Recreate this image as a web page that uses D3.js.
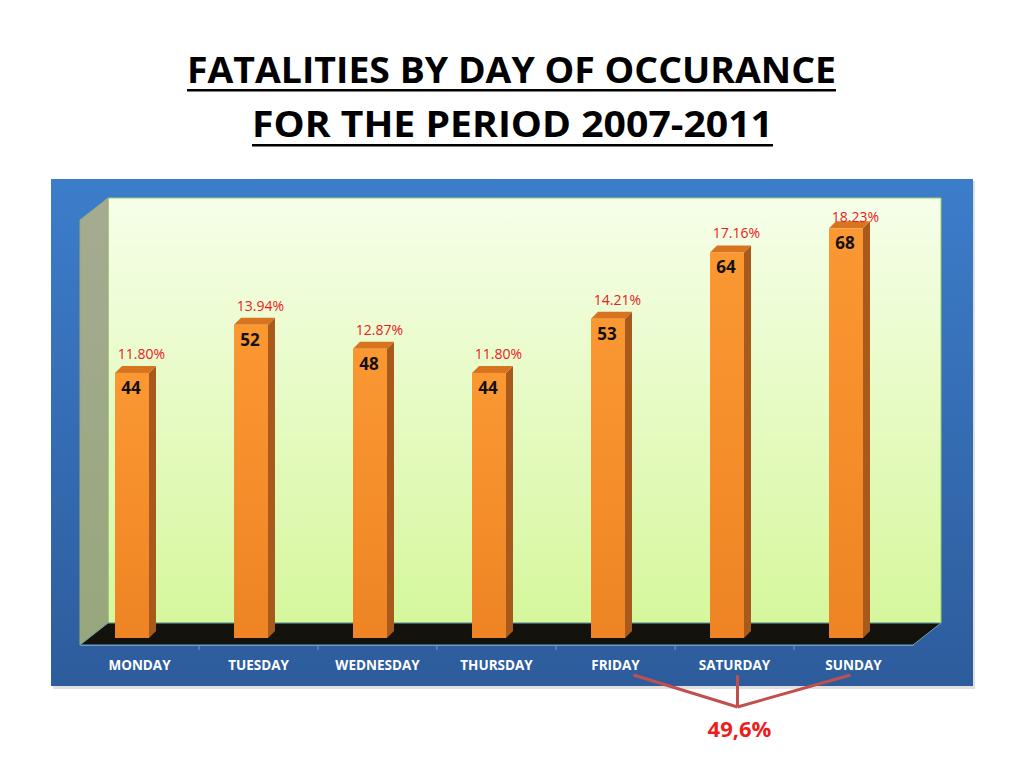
<!DOCTYPE html>
<html>
<head>
<meta charset="utf-8">
<script src="https://cdn.jsdelivr.net/npm/d3@7"></script>
<style>
  body { margin: 0; background: #fff; }
</style>
</head>
<body>
<div id="chart"></div>
<script>
const days = ["MONDAY", "TUESDAY", "WEDNESDAY", "THURSDAY", "FRIDAY", "SATURDAY", "SUNDAY"];
const fatalities = [44, 52, 48, 44, 53, 64, 68];
const shares = [11.8, 13.94, 12.87, 11.8, 14.21, 17.16, 18.23];
const weekendShare = "49,6%";
const titleLines = ["FATALITIES BY DAY OF OCCURANCE", "FOR THE PERIOD 2007-2011"];

const width = 1024;
const height = 768;

const svg = d3.select("#chart").append("svg")
  .attr("width", width)
  .attr("height", height);

const defs = svg.append("defs");

function vGrad(id, top, bottom) {
  const g = defs.append("linearGradient").attr("id", id)
    .attr("x1", 0).attr("y1", 0).attr("x2", 0).attr("y2", 1);
  g.append("stop").attr("offset", "0%").attr("stop-color", top);
  g.append("stop").attr("offset", "100%").attr("stop-color", bottom);
}
vGrad("panel", "#3c7dca", "#2d5c9c");
vGrad("wall", "#f6fee9", "#d6f79c");
vGrad("side", "#a5ab92", "#97a77c");
vGrad("barFront", "#fb9832", "#ee8424");

// title
const title = svg.append("g").attr("font-family", "'Open Sans', sans-serif")
  .attr("font-weight", "bold").attr("font-size", 36).attr("fill", "#000");
const titleSpans = [[187, 836, 83, 89], [252, 773, 137, 144]];
titleLines.forEach((t, i) => {
  const [x0, x1, base, ul] = titleSpans[i];
  title.append("text").attr("x", x0).attr("y", base)
    .attr("textLength", x1 - x0).attr("lengthAdjust", "spacingAndGlyphs").text(t);
  title.append("rect").attr("x", x0).attr("y", ul).attr("width", x1 - x0).attr("height", 2.5);
});

// blue panel
svg.append("rect").attr("x", 52).attr("y", 180).attr("width", 922).attr("height", 508)
  .attr("fill", "#000").attr("opacity", 0.12).attr("transform", "translate(1,1)");
svg.append("rect").attr("x", 51).attr("y", 179).attr("width", 922).attr("height", 507)
  .attr("fill", "url(#panel)");

// 3d frame
const depthX = 28, depthY = 22;
const x = d3.scaleBand().domain(days).range([80, 913]);
const y = d3.scaleLinear().domain([0, 80]).range([638, 156]);
const left = 80, right = 913, floorY = 645, topY = 198;

svg.append("polygon").attr("points",
  [[left + depthX, topY], [right + depthX, topY], [right + depthX, floorY - depthY], [left + depthX, floorY - depthY]].join(" "))
  .attr("fill", "url(#wall)").attr("stroke", "#9ccc6a").attr("stroke-width", 1);
svg.append("polygon").attr("points",
  [[left, topY + depthY], [left + depthX, topY], [left + depthX, floorY - depthY], [left, floorY]].join(" "))
  .attr("fill", "url(#side)").attr("stroke", "#8fb070").attr("stroke-width", 1);
svg.append("polygon").attr("points",
  [[left, floorY], [left + depthX, floorY - depthY], [right + depthX, floorY - depthY], [right, floorY]].join(" "))
  .attr("fill", "#14120c").attr("stroke", "#6aa0b0").attr("stroke-width", 1);

// axis
const axis = svg.append("g").attr("transform", `translate(0,${floorY})`)
  .call(d3.axisBottom(x).tickSize(0).tickPadding(15));
axis.select(".domain").attr("stroke", "#6c9ccc").attr("stroke-width", 1);
axis.selectAll(".tick text").attr("fill", "#fff").attr("font-family", "'Open Sans', sans-serif")
  .attr("font-weight", "bold").attr("font-size", 13.5).attr("dy", "0.71em");
axis.selectAll(".sep").data(days.slice(1)).enter().append("line")
  .attr("x1", (d) => x(d)).attr("x2", (d) => x(d)).attr("y1", 0).attr("y2", 5)
  .attr("stroke", "#6c9ccc");

// bars
const bw = 34, bdx = 7, bdy = 7;
const bars = svg.selectAll(".bar").data(days).enter().append("g").attr("class", "bar");
bars.append("polygon").attr("points", (d, i) => {
  const x0 = x(d) + 35 + bw, t = y(fatalities[i]), b = y(0);
  return [[x0, t], [x0 + bdx, t - bdy], [x0 + bdx, b - bdy], [x0, b]].join(" ");
}).attr("fill", "#a85a1c");
bars.append("polygon").attr("points", (d, i) => {
  const x0 = x(d) + 35, t = y(fatalities[i]);
  return [[x0, t], [x0 + bdx, t - bdy], [x0 + bw + bdx, t - bdy], [x0 + bw, t]].join(" ");
}).attr("fill", "#d8741f");
bars.append("rect").attr("x", (d) => x(d) + 35).attr("y", (d, i) => y(fatalities[i]))
  .attr("width", bw).attr("height", (d, i) => y(0) - y(fatalities[i]))
  .attr("fill", "url(#barFront)");

bars.append("text").attr("x", (d) => x(d) + 35 + bw / 2 - 1)
  .attr("y", (d, i) => y(fatalities[i]) + 21)
  .attr("text-anchor", "middle").attr("font-family", "'Open Sans', sans-serif")
  .attr("font-weight", "bold").attr("font-size", 17).attr("fill", "#111")
  .text((d, i) => fatalities[i]);

bars.append("text").attr("x", (d) => x(d) + x.bandwidth() / 2 + 2)
  .attr("y", (d, i) => Math.max(y(fatalities[i]) - 14, 222))
  .attr("text-anchor", "middle").attr("font-family", "'Open Sans', sans-serif")
  .attr("font-size", 14).attr("fill", "#e8201e")
  .text((d, i) => shares[i].toFixed(2) + "%");

// weekend bracket
const cx = (d) => x(d) + x.bandwidth() / 2;
const joinX = cx("SATURDAY") + 3, joinY = 707;
svg.append("g").attr("stroke", "#c0504d").attr("stroke-width", 3).attr("fill", "none")
  .selectAll("line").data(["FRIDAY", "SATURDAY", "SUNDAY"]).enter().append("line")
  .attr("x1", (d) => d === "SATURDAY" ? joinX : cx(d) + (d === "FRIDAY" ? 18 : -3))
  .attr("y1", 675).attr("x2", joinX).attr("y2", joinY);
svg.append("text").attr("x", joinX + 2).attr("y", 737).attr("text-anchor", "middle")
  .attr("font-family", "'Open Sans', sans-serif").attr("font-weight", "bold")
  .attr("font-size", 22).attr("fill", "#ee1c1c").text(weekendShare);
</script>
</body>
</html>
